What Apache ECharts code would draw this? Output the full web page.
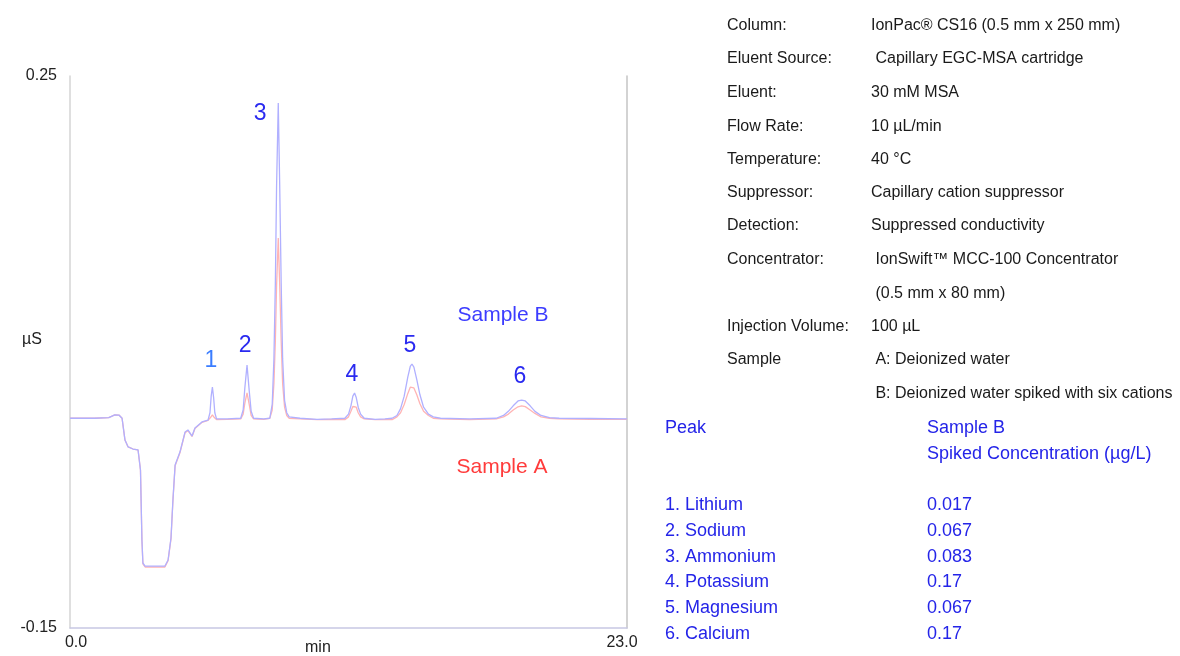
<!DOCTYPE html>
<html><head><meta charset="utf-8">
<script src="https://cdn.jsdelivr.net/npm/echarts@6/dist/echarts.min.js"></script>
<style>html,body{margin:0;padding:0;background:#fff}#c{width:1180px;height:656px}</style>
</head><body><div id="c"></div>
<script>
// ---- data ----
const xTicks = [0, 23];
const xTickLabels = ['0.0', '23.0'];
const yTicks = [-0.15, 0.25];
const yTickLabels = ['-0.15', '0.25'];
const xAxisTitle = 'min';
const yAxisTitle = '\u00B5S';

// Sample B (spiked) trace: [time (min), signal (µS)]
const sampleB = [
 [0,0.002],[1.0,0.002],[1.6,0.0025],[1.85,0.0045],[2.02,0.0043],[2.15,0.002],[2.27,-0.0138],[2.40,-0.0188],
 [2.60,-0.0203],[2.81,-0.021],[2.91,-0.0355],[2.97,-0.0862],[3.01,-0.1029],[3.10,-0.1051],[3.92,-0.1051],
 [4.05,-0.1007],[4.17,-0.0848],[4.25,-0.0572],[4.34,-0.0319],[4.54,-0.0225],[4.75,-0.008],[4.87,-0.0065],
 [5.04,-0.0109],[5.16,-0.0051],[5.45,-0.0007],[5.70,0.0007],
 [5.78,0.006],[5.83,0.018],[5.88,0.0246],[5.93,0.017],[5.98,0.006],[6.05,0.0015],[6.5,0.0015],
 [7.05,0.002],[7.15,0.008],[7.22,0.024],[7.31,0.0406],[7.40,0.022],[7.48,0.007],[7.58,0.002],[8.0,0.0015],
 [8.25,0.002],[8.35,0.012],[8.42,0.045],[8.48,0.10],[8.53,0.17],[8.60,0.2304],[8.66,0.17],[8.72,0.10],
 [8.78,0.045],[8.86,0.015],[8.95,0.006],[9.05,0.003],[9.5,0.002],[10.2,0.0012],[10.8,0.0015],
 [11.35,0.002],[11.5,0.005],[11.6,0.011],[11.68,0.018],[11.75,0.0203],[11.82,0.017],[11.9,0.010],[12.0,0.005],
 [12.15,0.002],[12.6,0.0012],[13.0,0.0015],
 [13.3,0.002],[13.5,0.004],[13.65,0.009],[13.8,0.018],[13.95,0.032],[14.05,0.0395],[14.12,0.0413],[14.2,0.039],
 [14.32,0.030],[14.45,0.019],[14.6,0.010],[14.8,0.005],[15.0,0.003],[15.3,0.002],[16.5,0.0015],
 [17.6,0.002],[17.9,0.004],[18.1,0.007],[18.3,0.011],[18.5,0.0145],[18.65,0.0152],[18.8,0.0145],[19.0,0.011],
 [19.2,0.007],[19.45,0.004],[19.8,0.0025],[20.2,0.002],[21.5,0.0018],[23,0.0015]
];

// Sample A (deionized water) trace
const sampleA = [
 [0,0.002],[1.0,0.002],[1.6,0.0025],[1.85,0.0045],[2.02,0.0043],[2.15,0.002],[2.27,-0.0138],[2.40,-0.0188],
 [2.60,-0.0203],[2.81,-0.021],[2.91,-0.0355],[2.97,-0.0862],[3.01,-0.1035],[3.10,-0.1058],[3.92,-0.1058],
 [4.05,-0.1012],[4.17,-0.0855],[4.25,-0.058],[4.34,-0.0325],[4.54,-0.023],[4.75,-0.0085],[4.87,-0.007],
 [5.04,-0.0112],[5.16,-0.0055],[5.45,-0.001],[5.70,0.0005],
 [5.80,0.0025],[5.88,0.0045],[5.96,0.0025],[6.05,0.001],[6.5,0.0012],
 [7.05,0.0015],[7.15,0.005],[7.22,0.013],[7.31,0.0203],[7.40,0.012],[7.48,0.004],[7.58,0.0015],[8.0,0.0012],
 [8.25,0.002],[8.35,0.008],[8.42,0.027],[8.48,0.058],[8.53,0.098],[8.60,0.1326],[8.66,0.098],[8.72,0.058],
 [8.78,0.027],[8.86,0.010],[8.95,0.004],[9.05,0.002],[9.5,0.0015],[10.2,0.001],[10.8,0.0012],
 [11.35,0.001],[11.5,0.003],[11.6,0.007],[11.68,0.0105],[11.75,0.0116],[11.82,0.010],[11.9,0.006],[12.0,0.003],
 [12.15,0.0015],[12.6,0.001],[13.0,0.001],
 [13.3,0.001],[13.5,0.003],[13.65,0.006],[13.8,0.012],[13.95,0.020],[14.05,0.0245],[14.12,0.0254],[14.2,0.024],
 [14.32,0.019],[14.45,0.0125],[14.6,0.007],[14.8,0.004],[15.0,0.002],[15.3,0.0015],[16.5,0.001],
 [17.6,0.0015],[17.9,0.003],[18.1,0.005],[18.3,0.008],[18.5,0.0103],[18.65,0.0109],[18.8,0.0104],[19.0,0.008],
 [19.2,0.0055],[19.45,0.003],[19.8,0.002],[20.2,0.0015],[21.5,0.0012],[23,0.0012]
];

const peakNumbers = ['1', '2', '3', '4', '5', '6'];
const peakNames = ['Lithium', 'Sodium', 'Ammonium', 'Potassium', 'Magnesium', 'Calcium'];
const peakConc = ['0.017', '0.067', '0.083', '0.17', '0.067', '0.17'];

const infoLabels = ['Column:', 'Eluent Source:', 'Eluent:', 'Flow Rate:', 'Temperature:', 'Suppressor:',
  'Detection:', 'Concentrator:', '', 'Injection Volume:', 'Sample', ''];
const infoValues = ['IonPac\u00AE CS16 (0.5 mm x 250 mm)', ' Capillary EGC-MSA cartridge', '30 mM MSA',
  '10 \u00B5L/min', '40 \u00B0C', 'Capillary cation suppressor', 'Suppressed conductivity',
  ' IonSwift\u2122 MCC-100 Concentrator', ' (0.5 mm x 80 mm)', '100 \u00B5L', ' A: Deionized water',
  ' B: Deionized water spiked with six cations'];

// ---- chart ----
const FONT = '"Liberation Sans", Arial, sans-serif';
const chart = echarts.init(document.getElementById('c'), null, {renderer: 'canvas'});

const peakLabelCoords = [[5.82,0.0435],[7.23,0.0543],[7.85,0.2225],[11.64,0.0333],[14.04,0.0543],[18.58,0.0319]];
const peakColors = ['#3b7dff','#2a2af0','#2a2af0','#2a2af0','#2a2af0','#2a2af0'];

const graphics = [];
graphics.push({type:'text', left:22, top:332, style:{text:yAxisTitle, font:'16px ' + FONT, fill:'#222'}});
graphics.push({type:'text', left:305, top:640, style:{text:xAxisTitle, font:'16px ' + FONT, fill:'#222'}});
const infoY = [24, 57, 91, 125, 158, 191, 224, 258, 292, 325, 358, 392];
infoLabels.forEach((t, i) => {
  if (t) graphics.push({type:'text', left:727, top:infoY[i]-6, style:{text:t, font:'16px ' + FONT, fill:'#1a1a1a'}});
  graphics.push({type:'text', left:871, top:infoY[i]-6, style:{text:infoValues[i], font:'16px ' + FONT, fill:'#1a1a1a'}});
});
const tblColor = '#2424e8';
graphics.push({type:'text', left:665, top:419, style:{text:'Peak', font:'18px ' + FONT, fill:tblColor}});
graphics.push({type:'text', left:927, top:419, style:{text:'Sample B', font:'18px ' + FONT, fill:tblColor}});
graphics.push({type:'text', left:927, top:445, style:{text:'Spiked Concentration (\u00B5g/L)', font:'18px ' + FONT, fill:tblColor}});
const tblY = [504, 530, 556, 581, 607, 633];
peakNames.forEach((n, i) => {
  graphics.push({type:'text', left:665, top:tblY[i]-8, style:{text:peakNumbers[i] + '. ' + n, font:'18px ' + FONT, fill:tblColor}});
  graphics.push({type:'text', left:927, top:tblY[i]-8, style:{text:peakConc[i], font:'18px ' + FONT, fill:tblColor}});
});

chart.setOption({
  animation: false,
  backgroundColor: '#ffffff',
  grid: {left: 70, right: 553, top: 76, bottom: 28, containLabel: false, outerBoundsMode: 'none'},
  xAxis: {
    type: 'value', min: 0, max: 23,
    axisLine: {show: true, onZero: false, lineStyle: {color: '#c8c8e4', width: 1.5}},
    axisTick: {show: false},
    splitLine: {show: false},
    axisLabel: {
      customValues: xTicks, margin: 7, fontFamily: FONT, fontSize: 16, color: '#222',
      formatter: v => (v === xTicks[0] ? '{a|' + xTickLabels[0] + '}' : '{b|' + xTickLabels[1] + '}'),
      rich: {a: {fontFamily: FONT, fontSize: 16, color: '#222', padding: [0, 0, 0, 12]},
             b: {fontFamily: FONT, fontSize: 16, color: '#222', padding: [0, 10, 0, 0]}}
    }
  },
  yAxis: [{
    type: 'value', min: -0.15, max: 0.25,
    axisLine: {show: true, onZero: false, lineStyle: {color: '#d4d4d4', width: 1.5}},
    axisTick: {show: false},
    splitLine: {show: false},
    axisLabel: {
      customValues: yTicks, margin: 13, fontFamily: FONT, fontSize: 16, color: '#222',
      formatter: v => (Math.abs(v - yTicks[0]) < 1e-9 ? yTickLabels[0] : yTickLabels[1])
    }
  }, {
    type: 'value', min: -0.15, max: 0.25, position: 'right',
    axisLine: {show: true, onZero: false, lineStyle: {color: '#c4c4c4', width: 1.5}},
    axisTick: {show: false}, axisLabel: {show: false}, splitLine: {show: false}
  }],
  series: [{
    name: 'Sample A', type: 'line', data: sampleA, showSymbol: false, symbol: 'none',
    lineStyle: {color: '#ffb4b4', width: 1.3}, z: 2,
    markPoint: {
      symbol: 'circle', symbolSize: 1, itemStyle: {color: 'rgba(0,0,0,0)'}, silent: true,
      label: {show: true, position: 'inside', formatter: '{b}', fontFamily: FONT, fontSize: 21, color: '#ff3b3b'},
      data: [{name: 'Sample A', coord: [17.84, -0.0333]}]
    }
  }, {
    name: 'Sample B', type: 'line', data: sampleB, showSymbol: false, symbol: 'none',
    lineStyle: {color: '#b0b0ff', width: 1.3}, z: 3,
    markPoint: {
      symbol: 'circle', symbolSize: 1, itemStyle: {color: 'rgba(0,0,0,0)'}, silent: true,
      label: {show: true, position: 'inside', formatter: '{b}', fontFamily: FONT, fontSize: 23, color: '#2a2af0'},
      data: peakNumbers.map((p, i) => ({name: p, coord: peakLabelCoords[i], label: {color: peakColors[i]}}))
        .concat([{name: 'Sample B', coord: [17.88, 0.0768], label: {fontSize: 21, color: '#3c3cff'}}])
    }
  }],
  graphic: graphics
});
</script></body></html>
